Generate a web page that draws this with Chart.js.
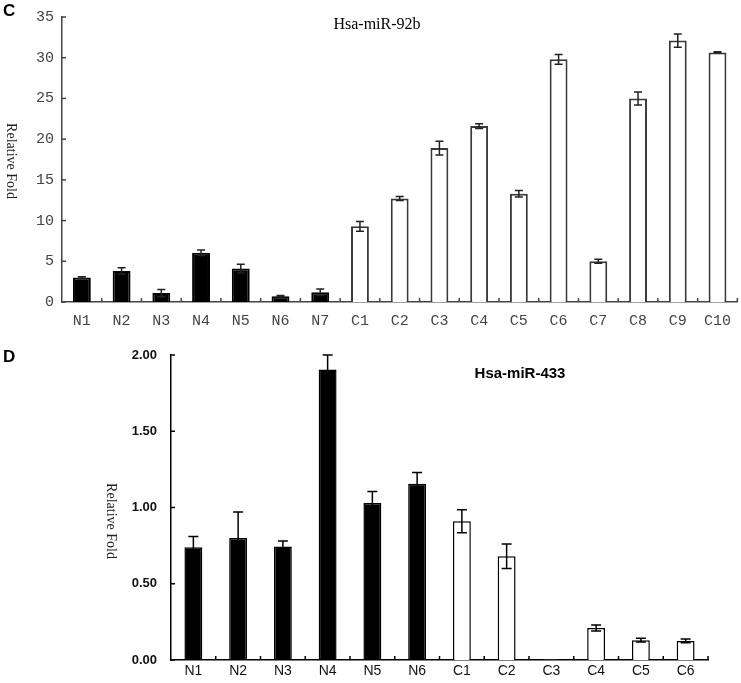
<!DOCTYPE html>
<html>
<head>
<meta charset="utf-8">
<script src="https://cdn.jsdelivr.net/npm/chart.js@4.4.1/dist/chart.umd.min.js"></script>
<style>
  html, body { margin: 0; padding: 0; background: #fff; }
  #wrap { position: relative; width: 741px; height: 683px; }
  #cC { position: absolute; left: 0; top: 0; }
  #cD { position: absolute; left: 0; top: 330px; }
</style>
</head>
<body>
<div id="wrap">
  <canvas id="cC" width="741" height="330"></canvas>
  <canvas id="cD" width="741" height="353"></canvas>
</div>
<script>
// panel C: Hsa-miR-92b
const labelsC = ['N1', 'N2', 'N3', 'N4', 'N5', 'N6', 'N7', 'C1', 'C2', 'C3', 'C4', 'C5', 'C6', 'C7', 'C8', 'C9', 'C10'];
const valuesC = [3.0, 3.8, 1.1, 6.05, 4.1, 0.7, 1.2, 9.3, 12.7, 18.9, 21.6, 13.3, 29.8, 5.0, 25.0, 32.1, 30.65];
const errC = [0.1, 0.4, 0.45, 0.35, 0.55, 0.1, 0.4, 0.6, 0.25, 0.85, 0.3, 0.4, 0.6, 0.25, 0.8, 0.8, 0.08];

// panel D: Hsa-miR-433
const labelsD = ['N1', 'N2', 'N3', 'N4', 'N5', 'N6', 'C1', 'C2', 'C3', 'C4', 'C5', 'C6'];
const valuesD = [0.74, 0.80, 0.745, 1.905, 1.03, 1.155, 0.91, 0.68, 0.003, 0.21, 0.13, 0.125];
const errD = [0.07, 0.17, 0.035, 0.095, 0.075, 0.075, 0.075, 0.08, 0, 0.02, 0.012, 0.012];

function fills(labels) {
    return labels.map(l => l[0] === 'N' ? '#000' : '#fff');
}

const decor = {
    id: 'decor',
    afterDatasetsDraw(chart, args, o) {
        const ctx = chart.ctx;
        const x = chart.scales.x, y = chart.scales.y;
        const ds = chart.data.datasets[0];
        ctx.save();
        ctx.strokeStyle = o.errColor;
        ctx.lineWidth = 1.5;
        ds.data.forEach((v, i) => {
            const e = o.err[i];
            if (!e) return;
            const cx = x.getPixelForValue(i);
            const yt = y.getPixelForValue(v + e), yb = y.getPixelForValue(Math.max(0, v - e));
            ctx.beginPath();
            ctx.moveTo(cx, yb); ctx.lineTo(cx, yt);
            ctx.moveTo(cx - o.cap, yt); ctx.lineTo(cx + o.cap, yt);
            ctx.moveTo(cx - o.cap, yb); ctx.lineTo(cx + o.cap, yb);
            ctx.stroke();
        });
        ctx.restore();
    },
    afterDraw(chart, args, o) {
        const ctx = chart.ctx;
        const x = chart.scales.x, y = chart.scales.y;
        const a = chart.chartArea;
        ctx.save();
        ctx.strokeStyle = o.axisColor;
        ctx.lineWidth = 1.5;
        // inward y ticks
        y.ticks.forEach((t, i) => {
            const py = y.getPixelForTick(i);
            ctx.beginPath(); ctx.moveTo(a.left, py); ctx.lineTo(a.left + 4, py); ctx.stroke();
        });
        // x ticks between categories
        const n = chart.data.labels.length;
        for (let i = 1; i <= n; i++) {
            const px = i < n ? (x.getPixelForValue(i - 1) + x.getPixelForValue(i)) / 2 : a.right;
            ctx.beginPath(); ctx.moveTo(px, a.bottom); ctx.lineTo(px, a.bottom - 4); ctx.stroke();
        }
        // texts
        ctx.fillStyle = '#000';
        ctx.textBaseline = 'middle';
        ctx.textAlign = 'left';
        ctx.font = 'bold 17px "Liberation Sans", Arial, sans-serif';
        ctx.fillText(o.letter, o.letterX, o.letterY);
        ctx.textAlign = 'center';
        ctx.font = o.titleFont;
        ctx.fillText(o.title, o.titleX, o.titleY);
        ctx.translate(o.ylabX, o.ylabY);
        ctx.rotate(Math.PI / 2);
        ctx.font = '14px "Liberation Serif", "Times New Roman", serif';
        ctx.fillStyle = '#222';
        ctx.fillText('Relative Fold', 0, 0);
        ctx.restore();
    }
};

function makeChart(id, labels, values, err, cfg) {
    return new Chart(document.getElementById(id), {
        type: 'bar',
        data: {
            labels: labels,
            datasets: [{
                data: values,
                backgroundColor: fills(labels),
                borderColor: cfg.barBorder,
                borderWidth: cfg.barBorderWidth,
                barPercentage: cfg.barPct,
                categoryPercentage: 1
            }]
        },
        options: {
            responsive: false,
            animation: false,
            layout: { padding: cfg.padding },
            plugins: {
                legend: { display: false },
                tooltip: { enabled: false },
                decor: Object.assign({ err: err }, cfg.decor)
            },
            scales: {
                x: {
                    grid: { display: false, drawTicks: false },
                    border: { color: cfg.axisColor, width: 1.5 },
                    ticks: { color: cfg.tickColor, font: cfg.xFont, padding: cfg.xPad, maxRotation: 0, autoSkip: false },
                    afterFit: s => { s.height = cfg.xHeight; }
                },
                y: {
                    min: 0, max: cfg.yMax,
                    grid: { display: false, drawTicks: false },
                    border: { color: cfg.axisColor, width: 1.5 },
                    ticks: { stepSize: cfg.step, color: cfg.tickColor, font: cfg.yFont, padding: cfg.yPad,
                        callback: v => cfg.fmt(v) },
                    afterFit: s => { s.width = cfg.yWidth; }
                }
            }
        },
        plugins: [decor]
    });
}

makeChart('cC', labelsC, valuesC, errC, {
    barBorder: labelsC.map(l => l[0] === 'N' ? '#000' : '#3a3a3a'),
    barBorderWidth: 2,
    barPct: 0.45,
    padding: { top: 6, right: 0, left: 0, bottom: 0 },
    axisColor: '#444',
    tickColor: '#444',
    xFont: { family: '"Liberation Mono", "Courier New", monospace', size: 15 },
    yFont: { family: '"Liberation Mono", "Courier New", monospace', size: 15 },
    xPad: 10, yPad: 8,
    xHeight: 28, yWidth: 62,
    yMax: 35, step: 5,
    fmt: v => String(v),
    decor: {
        errColor: '#222', cap: 4, axisColor: '#444',
        letter: 'C', letterX: 3, letterY: 11,
        title: 'Hsa-miR-92b', titleFont: '16px "Liberation Serif", "Times New Roman", serif',
        titleX: 377, titleY: 25,
        ylabX: 11, ylabY: 161
    }
});

makeChart('cD', labelsD, valuesD, errD, {
    barBorder: '#000',
    barBorderWidth: 1.5,
    barPct: 0.4,
    padding: { top: 25, right: 33, left: 0, bottom: 0 },
    axisColor: '#000',
    tickColor: '#111',
    xFont: { family: '"Liberation Sans", Arial, sans-serif', size: 14 },
    yFont: { family: '"Liberation Sans", Arial, sans-serif', size: 13, weight: 'bold' },
    xPad: 3, yPad: 14,
    xHeight: 23, yWidth: 171,
    yMax: 2, step: 0.5,
    fmt: v => v.toFixed(2),
    decor: {
        errColor: '#000', cap: 5, axisColor: '#000',
        letter: 'D', letterX: 3, letterY: 27,
        title: 'Hsa-miR-433', titleFont: 'bold 15px "Liberation Sans", Arial, sans-serif',
        titleX: 520, titleY: 44,
        ylabX: 111, ylabY: 191
    }
});
</script>
</body>
</html>
